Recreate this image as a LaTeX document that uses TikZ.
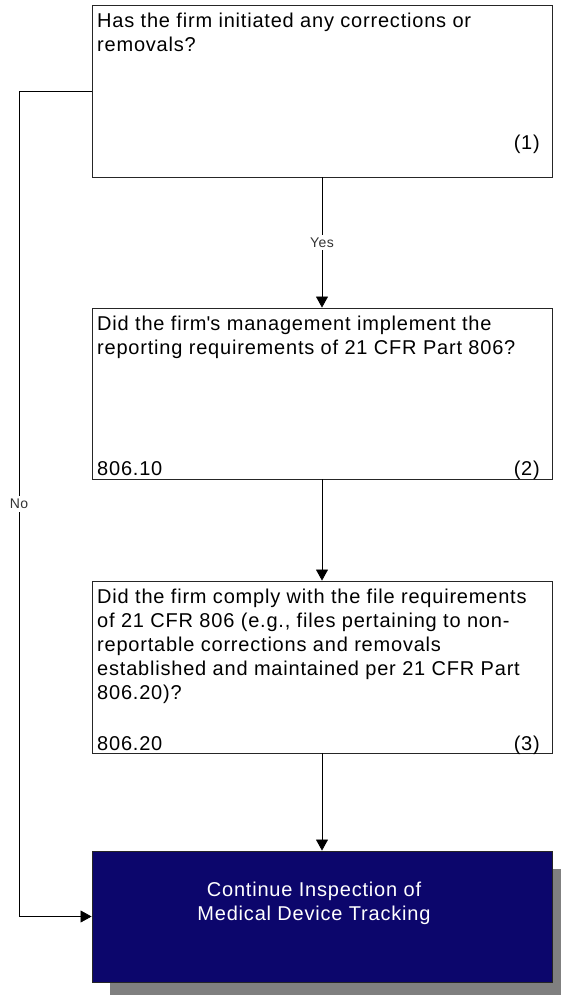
\documentclass[tikz,border=0pt]{standalone}
\usepackage{fontspec}
\setmainfont{Liberation Sans}[LetterSpace=4]
\usetikzlibrary{arrows.meta, shadows}
\definecolor{navybox}{RGB}{12,6,108}
\definecolor{shadowgray}{RGB}{128,128,128}
\tikzset{
	qbox/.style={
		draw=black!85,
		line width=0.9pt,
		minimum width=460pt,
		inner sep=0pt
	},
	qtext/.style={anchor=north west, inner sep=0pt, align=left, font=\fontsize{20}{24}\selectfont},
	qref/.style={inner sep=0pt, font=\fontsize{20}{24}\selectfont},
	flow/.style={-{Triangle[width=12pt, length=11pt]}, line width=0.7pt},
	ans/.style={fill=white, inner sep=3pt, text=black!80, font=\fontsize{14}{16}\selectfont}
}

\begin{document}
\begin{tikzpicture}[x=1pt, y=-1pt]
\useasboundingbox (0,0) rectangle (561,995);
\clip (0,0) rectangle (561,995);

% question boxes
\node[qbox, minimum height=172pt] (Q1) at (322, 91) {};
\node[qbox, minimum height=171pt] (Q2) at (322, 393.5) {};
\node[qbox, minimum height=172pt] (Q3) at (322, 667) {};
\node[qbox, minimum height=131pt, fill=navybox,
	drop shadow={shadow xshift=18pt, shadow yshift=-18pt, fill=shadowgray, opacity=1}] (End) at (322, 916.5) {};

\node[qtext] (T1) at (97, 13) {Has the firm initiated any corrections or\\removals?};
\node[qtext] (T2) at (97, 316) {Did the firm\textquotesingle s management implement the\\reporting requirements of 21 CFR Part 806?};
\node[qtext] (T3) at (97, 589) {Did the firm comply with the file requirements\\of 21 CFR 806 (e.g., files pertaining to non-\\reportable corrections and removals\\established and maintained per 21 CFR Part\\806.20)?};
\node[qref, anchor=base east] (N1) at (540, 150) {(1)};
\node[qref, anchor=base east] (N2) at (540, 475) {(2)};
\node[qref, anchor=base west] (S2) at (97, 475) {806.10};
\node[qref, anchor=base east] (N3) at (540, 750) {(3)};
\node[qref, anchor=base west] (S3) at (97, 750) {806.20};
\node[qref, align=center, text=white] (TE) at (314, 903) {Continue Inspection of\\Medical Device Tracking};

% connectors
\coordinate (noBend) at (19, 91);
\draw[flow] (Q1) -- node[ans] (yes) {Yes} (Q2);
\foreach \a/\b in {Q2/Q3, Q3/End}
	\draw[flow] (\a) -- (\b);
\draw[flow] (Q1.west) -- (noBend) |- node[ans, pos=0.25] (no) {No} (End.west);
\end{tikzpicture}
\end{document}
